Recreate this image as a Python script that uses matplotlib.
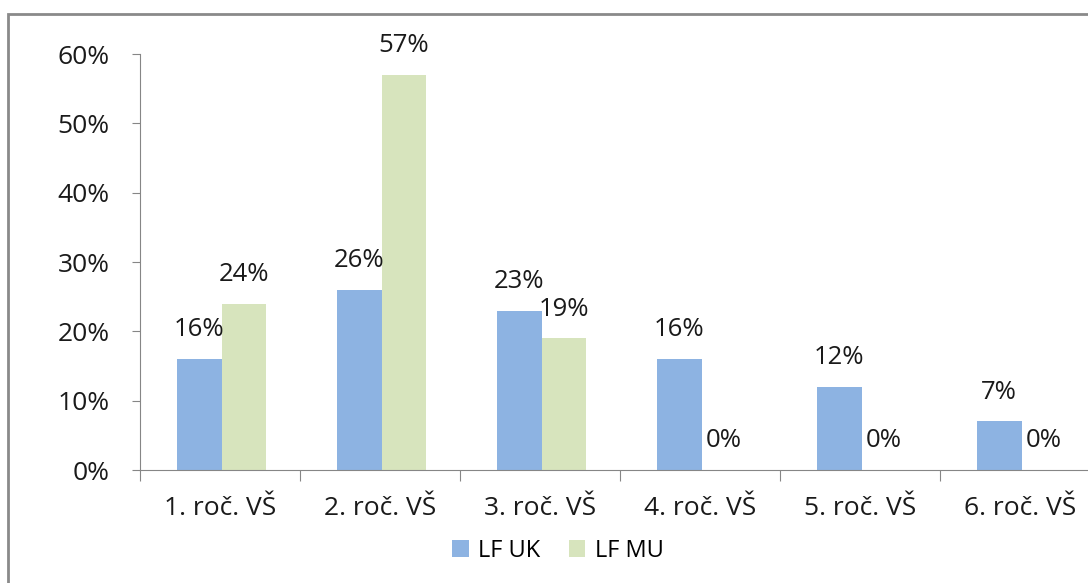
import matplotlib.pyplot as plt
from matplotlib.patches import Rectangle
from matplotlib.ticker import PercentFormatter

categories = ["1. roč. VŠ", "2. roč. VŠ", "3. roč. VŠ", "4. roč. VŠ", "5. roč. VŠ", "6. roč. VŠ"]
lf_uk = [16, 26, 23, 16, 12, 7]
lf_mu = [24, 57, 19, 0, 0, 0]

blue = "#8DB3E2"
green = "#D7E4BD"
axis_gray = "#868686"

plt.rcParams['font.family'] = ['Open Sans', 'DejaVu Sans']

fig = plt.figure(figsize=(10.88, 5.83), dpi=100)
# outer chart border (cut off at right and bottom in the original)
fig.patches.append(Rectangle((8 / 1088, -0.1), 1.2, 1 - 14 / 583 + 0.1,
                             transform=fig.transFigure, fill=False,
                             edgecolor="#8a8a8a", linewidth=2))

ax = fig.add_axes([140 / 1088, 1 - 470 / 583, 960 / 1088, 416 / 583])

x = range(len(categories))
w = 0.28
bars_uk = ax.bar([i - w / 2 + 0.01 for i in x], lf_uk, w, color=blue, label="LF UK")
bars_mu = ax.bar([i + w / 2 + 0.01 for i in x], lf_mu, w, color=green, label="LF MU")

for bars, vals in ((bars_uk, lf_uk), (bars_mu, lf_mu)):
    for b, v in zip(bars, vals):
        ax.text(b.get_x() + b.get_width() / 2, v + 2.4, f"{v}%",
                ha="center", va="bottom", fontsize=18.5, color="#1a1a1a")

ax.set_xlim(-0.5, len(categories) - 0.5)
ax.set_ylim(0, 60)
ax.set_yticks(range(0, 61, 10))
ax.yaxis.set_major_formatter(PercentFormatter(decimals=0))
ax.set_xticks([i - 0.5 for i in range(len(categories) + 1)])
ax.set_xticklabels([])
ax.set_xticks(list(x), minor=True)
ax.set_xticklabels(categories, minor=True)
ax.tick_params(axis="x", which="minor", length=0, pad=19, labelsize=19)
ax.tick_params(axis="x", which="major", length=8, color=axis_gray)
ax.tick_params(axis="y", length=6, color=axis_gray, labelsize=19, pad=16,
               labelcolor="#1a1a1a")
ax.tick_params(axis="x", which="minor", labelcolor="#1a1a1a")

for s in ("top", "right"):
    ax.spines[s].set_visible(False)
for s in ("left", "bottom"):
    ax.spines[s].set_color(axis_gray)

fig.legend(handles=[bars_uk, bars_mu], loc="center",
           bbox_to_anchor=(558 / 1088, 1 - 551 / 583), ncol=2, frameon=False,
           fontsize=17, handlelength=0.7, handleheight=0.7, handletextpad=0.4,
           columnspacing=1.2)

plt.savefig("out.png", dpi=100)
